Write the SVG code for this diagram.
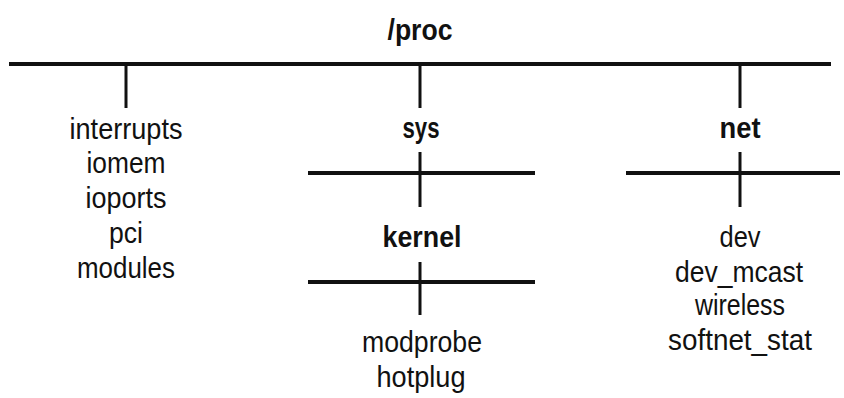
<svg xmlns="http://www.w3.org/2000/svg" width="844" height="398" viewBox="0 0 844 398">
<style>
text{font-family:"Liberation Sans","DejaVu Sans",sans-serif;font-size:29px;fill:#111;text-anchor:middle}
.b{font-weight:bold}
.bus{stroke:#111;stroke-width:4;fill:none}
.tick{stroke:#111;stroke-width:3;fill:none}
</style>
<rect width="844" height="398" fill="#fff"/>
<g id="connectors">
<line class="bus" x1="9" y1="64" x2="831" y2="64"/>
<line class="tick" x1="126" y1="64" x2="126" y2="108"/>
<line class="tick" x1="420" y1="64" x2="420" y2="108"/>
<line class="tick" x1="740" y1="64" x2="740" y2="108"/>
<line class="bus" x1="308" y1="173" x2="535" y2="173"/>
<line class="tick" x1="420" y1="152" x2="420" y2="207"/>
<line class="bus" x1="308" y1="282" x2="535" y2="282"/>
<line class="tick" x1="420" y1="262" x2="420" y2="315"/>
<line class="bus" x1="626" y1="173" x2="840" y2="173"/>
<line class="tick" x1="740" y1="152" x2="740" y2="207"/>
</g>
<g id="proc"><text class="b" x="420" y="40" textLength="65" lengthAdjust="spacingAndGlyphs">/proc</text></g>
<g id="proc-files">
<text x="126" y="139" textLength="113" lengthAdjust="spacingAndGlyphs">interrupts</text>
<text x="126" y="173" textLength="79" lengthAdjust="spacingAndGlyphs">iomem</text>
<text x="126" y="208" textLength="81" lengthAdjust="spacingAndGlyphs">ioports</text>
<text x="126" y="243" textLength="34" lengthAdjust="spacingAndGlyphs">pci</text>
<text x="126" y="278" textLength="98" lengthAdjust="spacingAndGlyphs">modules</text>
</g>
<g id="sys"><text class="b" x="421" y="138" textLength="37" lengthAdjust="spacingAndGlyphs">sys</text></g>
<g id="kernel"><text class="b" x="422" y="247" textLength="79" lengthAdjust="spacingAndGlyphs">kernel</text></g>
<g id="kernel-files">
<text x="422" y="352" textLength="120" lengthAdjust="spacingAndGlyphs">modprobe</text>
<text x="421" y="387" textLength="89" lengthAdjust="spacingAndGlyphs">hotplug</text>
</g>
<g id="net"><text class="b" x="740" y="138" textLength="41" lengthAdjust="spacingAndGlyphs">net</text></g>
<g id="net-files">
<text x="740" y="247" textLength="41" lengthAdjust="spacingAndGlyphs">dev</text>
<text x="739" y="282" textLength="128" lengthAdjust="spacingAndGlyphs">dev_mcast</text>
<text x="740" y="315" textLength="90" lengthAdjust="spacingAndGlyphs">wireless</text>
<text x="740" y="350" textLength="144" lengthAdjust="spacingAndGlyphs">softnet_stat</text>
</g>
</svg>
